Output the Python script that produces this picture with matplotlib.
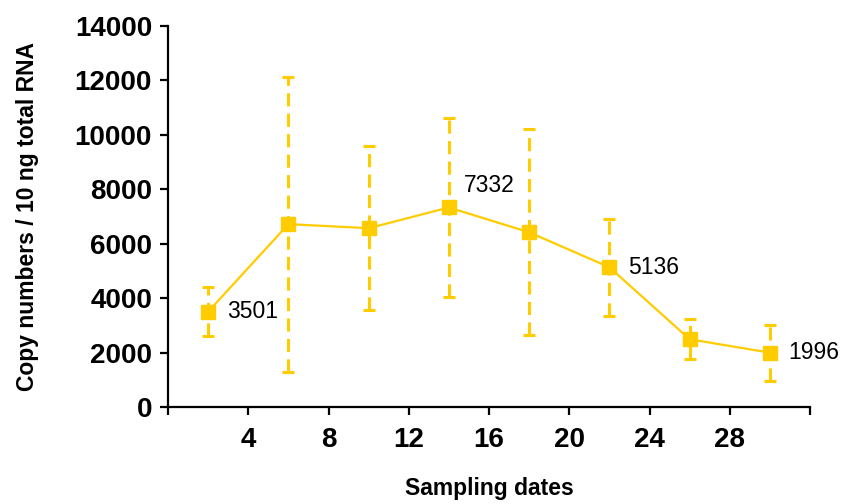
import matplotlib
matplotlib.use("Agg")
import matplotlib.pyplot as plt

# Data
days = [2, 6, 10, 14, 18, 22, 26, 30]
copies = [3501, 6720, 6570, 7332, 6420, 5136, 2490, 1996]
err_low = [2600, 1290, 3560, 4030, 2630, 3340, 1750, 955]
err_high = [4400, 12110, 9600, 10620, 10210, 6900, 3220, 3010]
labelled = {2: "3501", 14: "7332", 22: "5136", 30: "1996"}
x_ticks = [0, 4, 8, 12, 16, 20, 24, 28, 32]
x_ticklabels = ["", "4", "8", "12", "16", "20", "24", "28", ""]
y_ticks = [0, 2000, 4000, 6000, 8000, 10000, 12000, 14000]

color = "#FFCC00"
plt.rcParams['font.family'] = ['Liberation Sans', 'DejaVu Sans']

fig = plt.figure(figsize=(8.42, 5.04), dpi=100)
ax = fig.add_axes([168/842, 1 - 407/504, (810 - 168)/842, (407 - 26)/504])

yerr = [[c - l for c, l in zip(copies, err_low)],
        [h - c for c, h in zip(copies, err_high)]]
line, caps, bars = ax.errorbar(days, copies, yerr=yerr, color=color, lw=1.6,
                               marker="s", markersize=9.5, ecolor=color,
                               elinewidth=2.2, capsize=4.5, capthick=2.2,
                               zorder=3)
for b in bars:
    b.set_linestyle((0, (4.3, 2.4)))
    b.set_zorder(2)

for d, c in zip(days, copies):
    if d in labelled:
        if d == 14:
            ax.annotate(labelled[d], (d, c), xytext=(11, 16), textcoords="offset points",
                        ha="left", va="center", fontsize=16.5)
        else:
            ax.annotate(labelled[d], (d, c), xytext=(13.5, 0), textcoords="offset points",
                        ha="left", va="center", fontsize=16.5)

ax.set_xlim(0, 32)
ax.set_ylim(0, 14000)
ax.set_xticks(x_ticks)
ax.set_xticklabels(x_ticklabels)
ax.set_yticks(y_ticks)
for s in ["top", "right"]:
    ax.spines[s].set_visible(False)
for s in ["left", "bottom"]:
    ax.spines[s].set_linewidth(1.6)
ax.tick_params(direction="out", length=5.5, width=1.6, labelsize=20)
ax.tick_params(axis="x", pad=9)
ax.tick_params(axis="y", pad=6)
for t in ax.get_xticklabels() + ax.get_yticklabels():
    t.set_fontweight("bold")

ax.set_xlabel("Sampling dates", fontsize=16.5, fontweight="bold", labelpad=17)
ax.set_ylabel("Copy numbers / 10 ng total RNA", fontsize=16.5, fontweight="bold", labelpad=26)

fig.savefig("out.png", dpi=100)
